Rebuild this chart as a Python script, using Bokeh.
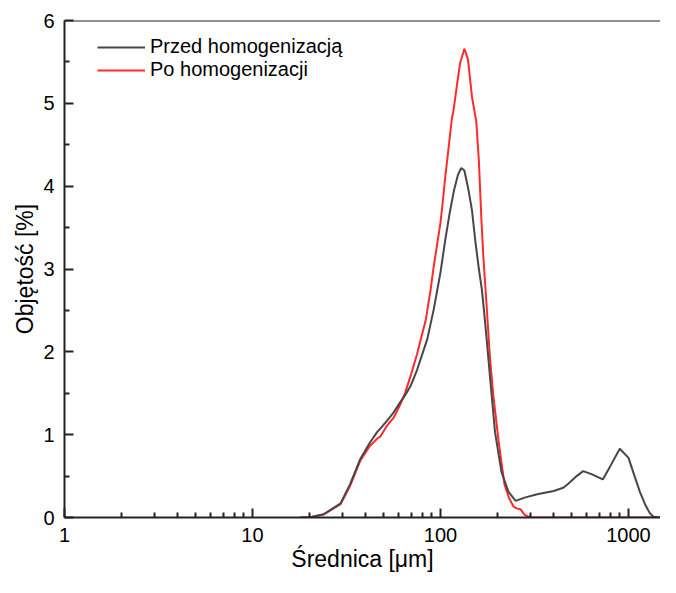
from bokeh.plotting import figure
from bokeh.models import Range1d, FixedTicker, Span, Legend, LegendItem
from bokeh.embed import file_html
from bokeh.resources import INLINE

# Diameter [um] and volume [%] - before homogenisation
diam_przed = [18, 20, 24, 29.4, 33, 37.5, 42, 46, 49, 52, 56, 61, 65, 69.4, 75, 81.6, 85, 92, 100,
              106, 112, 118, 124, 129, 134, 141, 147, 153, 160, 166, 172, 178, 184.5, 195, 211, 230,
              251, 280, 327, 400, 450, 480, 530, 574, 640, 730, 800, 899, 1000, 1066, 1150, 1230,
              1300, 1360, 1450, 1530, 1606, 1700, 1800]
vol_przed = [0, 0, 0.04, 0.17, 0.40, 0.71, 0.90, 1.03, 1.10, 1.17, 1.26, 1.39, 1.48, 1.59, 1.78, 2.03,
             2.15, 2.51, 2.96, 3.35, 3.68, 3.95, 4.14, 4.22, 4.19, 3.95, 3.71, 3.35, 3.00, 2.75, 2.40,
             2.03, 1.63, 1.03, 0.55, 0.31, 0.20, 0.24, 0.28, 0.32, 0.36, 0.41, 0.50, 0.56, 0.52, 0.46,
             0.62, 0.83, 0.72, 0.53, 0.31, 0.15, 0.05, 0.01, 0.0, 0.01, 0.02, 0.0, 0.0]

# after homogenisation
diam_po = [18, 20, 24, 29.4, 33, 37.5, 42, 46, 48, 52, 56.5, 61, 65, 70, 75, 80, 83.6, 88.6, 92, 96,
           100, 103, 106, 110, 115, 117, 122, 127, 134, 140, 147, 155, 160, 165, 169, 176, 183, 191,
           204, 219, 232, 245, 254, 266, 281, 300, 400, 1000, 1800]
vol_po = [0, 0, 0.04, 0.16, 0.38, 0.69, 0.86, 0.95, 0.98, 1.11, 1.21, 1.36, 1.51, 1.74, 1.97, 2.22,
          2.39, 2.75, 3.03, 3.30, 3.56, 3.83, 4.11, 4.43, 4.82, 4.90, 5.20, 5.48, 5.66, 5.53, 5.08,
          4.78, 4.31, 3.60, 3.15, 2.55, 1.95, 1.47, 0.91, 0.40, 0.23, 0.13, 0.11, 0.10, 0.03, 0.0,
          0.0, 0.0, 0.0]

x_ticks = [1, 10, 100, 1000]
y_ticks = [0, 1, 2, 3, 4, 5, 6]
labels = ["Przed homogenizacją", "Po homogenizacji"]
x_label = "Średnica [μm]"
y_label = "Objętość [%]"

FONT = "Liberation Sans"

p = figure(width=660, height=577, x_axis_type="log",
           x_range=Range1d(1, 1480), y_range=Range1d(0, 6),
           output_backend="svg", toolbar_location=None,
           min_border_left=64, min_border_right=0, min_border_top=20, min_border_bottom=60)
p.xgrid.visible = False
p.ygrid.visible = False
p.outline_line_color = None
p.background_fill_color = "white"
p.border_fill_color = "white"

r_po = p.line(diam_po, vol_po, line_color="#ff2a2a", line_width=2)
r_przed = p.line(diam_przed, vol_przed, line_color="#474747", line_width=2)

# top frame line
p.add_layout(Span(location=6, dimension="width", line_color="#222222", line_width=2))

x_minor = [m * d for d in x_ticks for m in range(2, 10)]
y_minor = [t + 0.5 for t in y_ticks[:-1]]

xa = p.xaxis[0]
xa.ticker = FixedTicker(ticks=x_ticks, minor_ticks=x_minor)
xa.major_label_overrides = {t: str(t) for t in x_ticks}
ya = p.yaxis[0]
ya.ticker = FixedTicker(ticks=y_ticks, minor_ticks=y_minor)

for ax in (xa, ya):
    ax.axis_line_width = 2
    ax.axis_line_color = "#222222"
    ax.major_tick_line_width = 2
    ax.major_tick_line_color = "#222222"
    ax.minor_tick_line_width = 2
    ax.minor_tick_line_color = "#222222"
    ax.major_tick_in = 9
    ax.major_tick_out = 0
    ax.minor_tick_in = 5
    ax.minor_tick_out = 0
    ax.major_label_text_font = FONT
    ax.major_label_text_font_size = "20px"
    ax.major_label_text_color = "black"
    ax.axis_label_text_font = FONT
    ax.axis_label_text_font_size = "23px"
    ax.axis_label_text_font_style = "normal"
    ax.axis_label_text_color = "black"

xa.axis_label = x_label
ya.axis_label = y_label
xa.major_label_standoff = 10
ya.major_label_standoff = 10
xa.axis_label_standoff = 1
ya.axis_label_standoff = 2

legend = Legend(items=[LegendItem(label=labels[0], renderers=[r_przed]),
                       LegendItem(label=labels[1], renderers=[r_po])],
                location=(33, 436))
legend.background_fill_alpha = 0
legend.border_line_color = None
legend.padding = 0
legend.margin = 0
legend.spacing = 0
legend.glyph_width = 48
legend.glyph_height = 22
legend.label_height = 22
legend.label_standoff = 5
legend.label_text_font = FONT
legend.label_text_font_size = "20px"
legend.label_text_color = "black"
p.add_layout(legend)

open("out.html", "w").write(file_html(p, INLINE))
